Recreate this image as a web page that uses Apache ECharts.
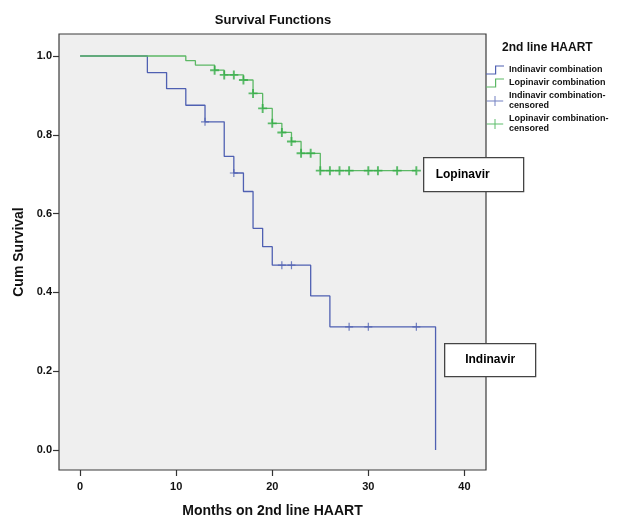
<!DOCTYPE html>
<html>
<head>
<meta charset="utf-8">
<script src="https://cdn.jsdelivr.net/npm/echarts@6/dist/echarts.min.js"></script>
<style>
html,body{margin:0;padding:0;background:#fff;}
#chart{width:620px;height:517px;}
</style>
</head>
<body>
<div id="chart"></div>
<script>
// ---- data ----
const xTicks = [0, 10, 20, 30, 40];
const yTicks = [0, 0.2, 0.4, 0.6, 0.8, 1.0];

const indTimes = [0, 7, 9, 11, 13, 15, 16, 17, 18, 19, 20, 24, 26, 37];
const indSurv  = [1, 0.958, 0.917, 0.875, 0.833, 0.745, 0.703, 0.656, 0.5625, 0.516, 0.469, 0.391, 0.3125, 0];
const indCensTimes = [13, 16, 21, 22, 28, 30, 35];
const indCensSurv  = [0.833, 0.703, 0.469, 0.469, 0.3125, 0.3125, 0.3125];

const lopTimes = [0, 11, 12, 14, 15, 17, 18, 19, 20, 21, 22, 23, 25, 35];
const lopSurv  = [1, 0.988, 0.977, 0.964, 0.952, 0.939, 0.905, 0.867, 0.829, 0.806, 0.783, 0.753, 0.709, 0.709];
const lopCensTimes = [14, 15, 16, 17, 18, 19, 20, 21, 22, 23, 24, 25, 26, 27, 28, 30, 31, 33, 35];
const lopCensSurv  = [0.964, 0.952, 0.952, 0.939, 0.905, 0.867, 0.829, 0.806, 0.783, 0.753, 0.753, 0.709, 0.709, 0.709, 0.709, 0.709, 0.709, 0.709, 0.709];

const seriesNames = ['Indinavir combination', 'Lopinavir combination', 'Indinavir combination-\ncensored', 'Lopinavir combination-\ncensored'];

// ---- styles ----
const FONT = 'Liberation Sans, Arial, sans-serif';
const BLUE = '#4f60b2';
const GREEN_LINE = '#5cb865';
const GREEN_MARK = '#35ad47';
const plusPath = 'path://M-4,-0.6 L4,-0.6 L4,0.6 L-4,0.6 Z M-0.6,-4 L0.6,-4 L0.6,4 L-0.6,4 Z';
const plusPathBold = 'path://M-4,-0.85 L4,-0.85 L4,0.85 L-4,0.85 Z M-0.85,-4 L0.85,-4 L0.85,4 L-0.85,4 Z';
const stepIcon = 'path://M0,9 L9,9 L9,1 L18,1 L18,2.2 L10.2,2.2 L10.2,10.2 L0,10.2 Z';
const plusIcon = 'path://M0,5 L18,5 L18,6.1 L0,6.1 Z M8.45,0 L9.55,0 L9.55,11 L8.45,11 Z';

const zip = (a, b) => a.map((v, i) => [v, b[i]]);

const chart = echarts.init(document.getElementById('chart'), null, {renderer: 'canvas'});
chart.setOption({
  animation: false,
  backgroundColor: '#ffffff',
  title: [
    {text: 'Survival Functions', left: 268, top: 9, textAlign: 'center',
     textStyle: {fontFamily: FONT, fontWeight: 'bold', fontSize: 13, color: '#111'}},
    {text: '2nd line HAART', left: 497, top: 37,
     textStyle: {fontFamily: FONT, fontWeight: 'bold', fontSize: 12, color: '#111'}}
  ],
  legend: {
    orient: 'vertical', left: 486, top: 65,
    itemWidth: 18, itemHeight: 10, itemGap: 3,
    padding: 0,
    textStyle: {fontFamily: FONT, fontWeight: 'bold', fontSize: 9, color: '#111', lineHeight: 10},
    data: [
      {name: seriesNames[0], icon: stepIcon},
      {name: seriesNames[1], icon: stepIcon},
      {name: seriesNames[2], icon: plusIcon},
      {name: seriesNames[3], icon: plusIcon}
    ]
  },
  grid: {
    left: 59, right: 134, top: 34, bottom: 47,
    containLabel: false, outerBoundsMode: 'none',
    show: true, backgroundColor: '#efefef', borderColor: '#3a3a3a', borderWidth: 1.2
  },
  xAxis: {
    type: 'value', min: -2.2, max: 42.25,
    name: 'Months on 2nd line HAART', nameLocation: 'middle', nameGap: 34,
    nameTextStyle: {fontFamily: FONT, fontWeight: 'bold', fontSize: 14, color: '#111'},
    axisLine: {show: false, onZero: false},
    splitLine: {show: false},
    axisTick: {show: true, length: 6, lineStyle: {color: '#333', width: 1.2}, customValues: xTicks},
    axisLabel: {customValues: xTicks, margin: 11, fontFamily: FONT, fontWeight: 'bold', fontSize: 11, color: '#111'}
  },
  yAxis: {
    type: 'value', min: -0.0508, max: 1.0558,
    name: 'Cum Survival', nameLocation: 'middle', nameGap: 30,
    nameTextStyle: {fontFamily: FONT, fontWeight: 'bold', fontSize: 14, color: '#111'},
    axisLine: {show: false, onZero: false},
    splitLine: {show: false},
    axisTick: {show: true, length: 6, lineStyle: {color: '#333', width: 1.2}, customValues: yTicks},
    axisLabel: {customValues: yTicks, margin: 7, fontFamily: FONT, fontWeight: 'bold', fontSize: 11, color: '#111',
      formatter: v => v.toFixed(1)}
  },
  series: [
    {name: seriesNames[0], type: 'line', step: 'end', data: zip(indTimes, indSurv),
     showSymbol: false, symbol: 'none', color: BLUE, itemStyle: {color: BLUE},
     lineStyle: {color: BLUE, width: 1.3}, z: 2},
    {name: seriesNames[1], type: 'line', step: 'end', data: zip(lopTimes, lopSurv),
     showSymbol: false, symbol: 'none', color: GREEN_LINE, itemStyle: {color: GREEN_LINE},
     lineStyle: {color: GREEN_LINE, width: 1.3}, z: 3},
    {name: seriesNames[2], type: 'scatter', data: zip(indCensTimes, indCensSurv),
     symbol: plusPath, symbolSize: 8, itemStyle: {color: BLUE}, z: 4},
    {name: seriesNames[3], type: 'scatter', data: zip(lopCensTimes, lopCensSurv),
     symbol: plusPathBold, symbolSize: 9, itemStyle: {color: GREEN_MARK}, z: 5}
  ],
  graphic: [
    {type: 'group', left: 423, top: 157, z: 100, children: [
      {type: 'rect', shape: {x: 0, y: 0, width: 100, height: 34},
       style: {fill: '#fff', stroke: '#444', lineWidth: 1.3}},
      {type: 'text', style: {x: 12, y: 17, text: 'Lopinavir', fontFamily: FONT, fontWeight: 'bold',
        fontSize: 12, fill: '#000', verticalAlign: 'middle', align: 'left'}}
    ]},
    {type: 'group', left: 444, top: 343, z: 100, children: [
      {type: 'rect', shape: {x: 0, y: 0, width: 91, height: 33},
       style: {fill: '#fff', stroke: '#444', lineWidth: 1.3}},
      {type: 'text', style: {x: 45.5, y: 16.5, text: 'Indinavir', fontFamily: FONT, fontWeight: 'bold',
        fontSize: 12, fill: '#000', verticalAlign: 'middle', align: 'center'}}
    ]}
  ]
});
</script>
</body>
</html>
